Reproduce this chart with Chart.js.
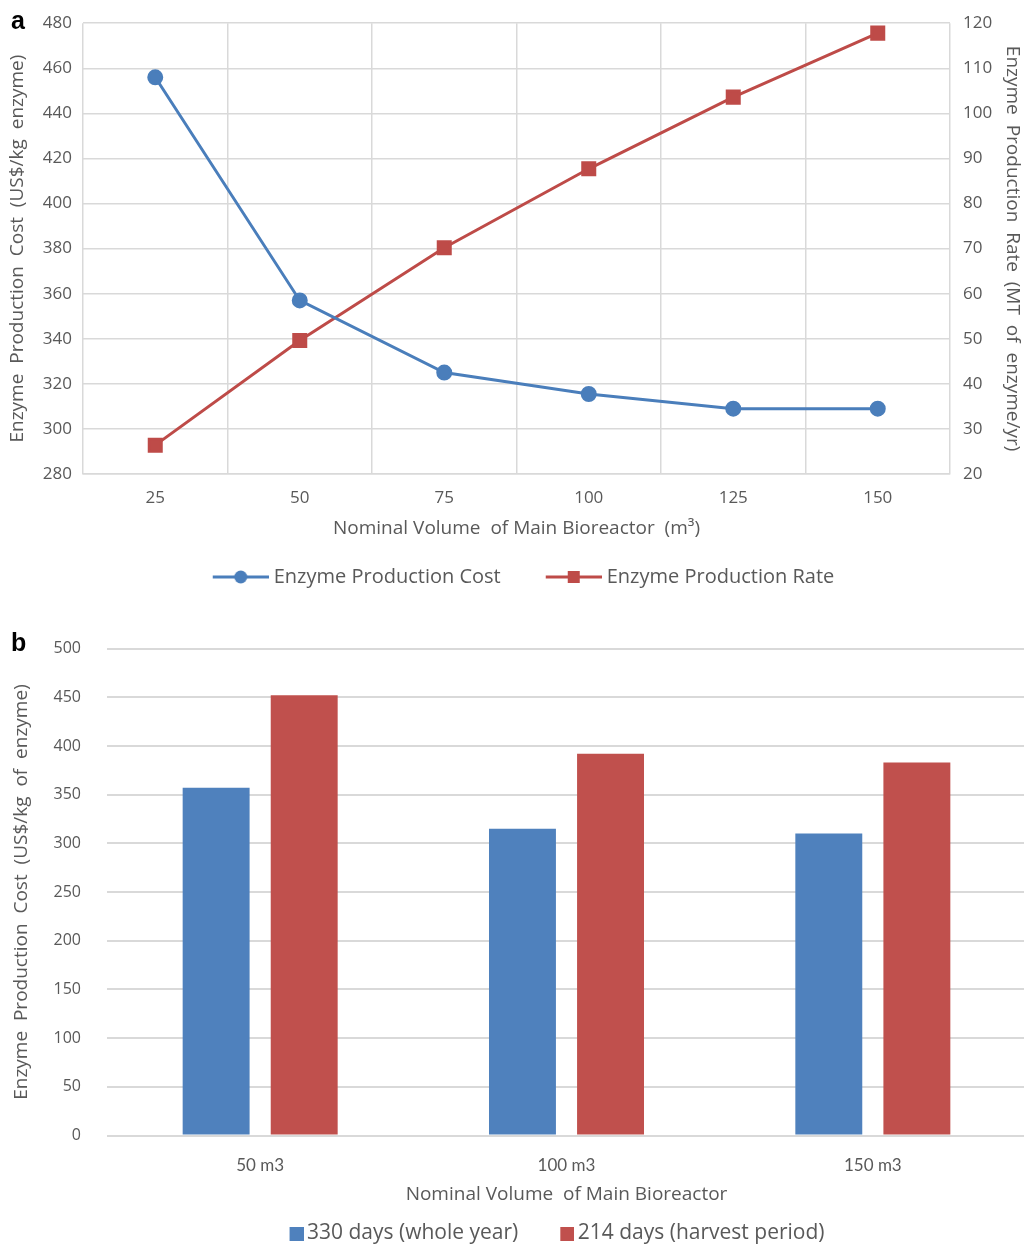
<!DOCTYPE html>
<html>
<head>
<meta charset="utf-8">
<title>Enzyme production cost vs. bioreactor volume</title>
<script src="https://cdn.jsdelivr.net/npm/chart.js@4.4.1/dist/chart.umd.min.js"></script>
<style>
  body{margin:0;background:#fff;width:1024px;height:1245px;overflow:hidden;position:relative}
  .tag{position:absolute;font:bold 25px 'Liberation Sans',Arial,sans-serif;color:#000}
  #wrap-a{position:absolute;left:0;top:0}
  #wrap-b{position:absolute;left:0;top:613px}
</style>
</head>
<body>
<div id="wrap-a"><canvas id="chart-a" width="1024" height="600"></canvas></div>
<div id="wrap-b"><canvas id="chart-b" width="1026" height="641"></canvas></div>
<div class="tag" style="left:11px;top:6px">a</div>
<div class="tag" style="left:11px;top:628px">b</div>

<script>
// panel a: cost and production rate vs. nominal volume (m3)
const volumes = ['25', '50', '75', '100', '125', '150'];
const productionCost = [456, 357, 325, 315.5, 309, 309];       // US$/kg enzyme
const productionRate = [26.4, 49.6, 70.2, 87.7, 103.6, 117.8];  // MT enzyme / yr

// panel b: cost for two operating schedules
const reactorSizes = ['50 m3', '100 m3', '150 m3'];
const costWholeYear = [357, 315, 310];
const costHarvest = [452, 392, 383];

const BLUE = '#4a7ebb';
const RED = '#be4b48';
const BAR_BLUE = '#4f81bd';
const BAR_RED = '#c0504d';
const GRID = '#d9d9d9';
const TICK = '#595959';

const fontA = "'Open Sans', 'Noto Sans', sans-serif";
const fontB = "Lato, 'Open Sans', sans-serif";

// legend swatches; the transparent strip on the left spaces the items apart
function lineIcon(color, shape){
  const margin = 28, len = 56;
  const c = document.createElement('canvas');
  c.width = margin + len; c.height = 14;
  const g = c.getContext('2d');
  g.strokeStyle = color; g.lineWidth = 3;
  g.beginPath(); g.moveTo(margin, 7); g.lineTo(margin + len, 7); g.stroke();
  g.fillStyle = color;
  if(shape === 'circle'){ g.beginPath(); g.arc(margin + len/2, 7, 6.5, 0, Math.PI*2); g.fill(); }
  else g.fillRect(margin + len/2 - 6, 1, 12, 12);
  return c;
}
function boxIcon(color){
  const margin = 39, size = 14;
  const c = document.createElement('canvas');
  c.width = margin + size; c.height = size;
  const g = c.getContext('2d');
  g.fillStyle = color;
  g.fillRect(margin, 0, size, size);
  return c;
}
const lineIcons = [lineIcon(BLUE, 'circle'), lineIcon(RED, 'rect')];
const boxIcons = [boxIcon(BAR_BLUE), boxIcon(BAR_RED)];

function withIcons(icons){
  return chart => Chart.defaults.plugins.legend.labels.generateLabels(chart)
    .map((it, i) => Object.assign(it, { pointStyle: icons[i] }));
}

new Chart(document.getElementById('chart-a'), {
  type: 'line',
  data: {
    labels: volumes,
    datasets: [
      {
        label: 'Enzyme Production Cost',
        data: productionCost,
        yAxisID: 'yCost',
        borderColor: BLUE, backgroundColor: BLUE,
        borderWidth: 3, pointStyle: 'circle', pointRadius: 6.5,
        tension: 0
      },
      {
        label: 'Enzyme Production Rate',
        data: productionRate,
        yAxisID: 'yRate',
        borderColor: RED, backgroundColor: RED,
        borderWidth: 3, pointStyle: 'rect', pointRadius: 8.5,
        tension: 0
      }
    ]
  },
  options: {
    responsive: false,
    animation: false,
    layout: { padding: { top: 22, bottom: 3, left: 0, right: 0 } },
    plugins: {
      tooltip: { enabled: false },
      legend: {
        position: 'bottom',
        labels: {
          usePointStyle: true,
          pointStyleWidth: lineIcons[0].width - 10,
          padding: 22,
          color: TICK,
          font: { family: fontA, size: 20 },
          generateLabels: withIcons(lineIcons)
        }
      }
    },
    scales: {
      x: {
        offset: true,
        grid: { offset: true, color: GRID, lineWidth: 1.5, drawTicks: false },
        border: { color: GRID, width: 1.5 },
        ticks: { color: TICK, padding: 14, font: { family: fontA, size: 17 } },
        title: { display: true, text: 'Nominal Volume  of Main Bioreactor  (m³)', color: TICK,
                 padding: { bottom: 5 }, font: { family: fontA, size: 19 } },
        afterFit: s => { s.height = 71; }
      },
      yCost: {
        position: 'left',
        min: 280, max: 480,
        ticks: { stepSize: 20, color: TICK, padding: 11, font: { family: fontA, size: 17 } },
        grid: { color: GRID, lineWidth: 1.5, drawTicks: false },
        border: { display: false },
        title: { display: true, text: 'Enzyme  Production  Cost  (US$/kg  enzyme)', color: TICK,
                 padding: { top: 6.5 }, font: { family: fontA, size: 19 } },
        afterFit: s => { s.width = 83; }
      },
      yRate: {
        position: 'right',
        min: 20, max: 120,
        ticks: { stepSize: 10, color: TICK, padding: 13, font: { family: fontA, size: 17 } },
        grid: { drawOnChartArea: false, drawTicks: false },
        border: { display: false },
        title: { display: true, text: 'Enzyme  Production  Rate  (MT  of  enzyme/yr)', color: TICK,
                 padding: { top: 0 }, font: { family: fontA, size: 19 } },
        afterFit: s => { s.width = 74; }
      }
    }
  }
});

// the bar legend sits a little right of the canvas centre
const nudgeLegend = {
  id: 'nudgeLegend',
  afterLayout(chart){
    chart.legend.left += 28;
    chart.legend.right += 28;
  }
};

new Chart(document.getElementById('chart-b'), {
  type: 'bar',
  data: {
    labels: reactorSizes,
    datasets: [
      { label: '330 days (whole year)', data: costWholeYear, backgroundColor: BAR_BLUE },
      { label: '214 days (harvest period)', data: costHarvest, backgroundColor: BAR_RED }
    ]
  },
  plugins: [nudgeLegend],
  options: {
    responsive: false,
    animation: false,
    layout: { padding: { top: 21, bottom: 0, left: 0, right: 0 } },
    datasets: { bar: { categoryPercentage: 0.575, barPercentage: 0.76 } },
    plugins: {
      tooltip: { enabled: false },
      legend: {
        position: 'bottom',
        labels: {
          usePointStyle: true,
          pointStyleWidth: boxIcons[0].width - 14,
          padding: 10,
          color: TICK,
          font: { family: fontA, size: 21 },
          generateLabels: withIcons(boxIcons)
        }
      }
    },
    scales: {
      x: {
        grid: { display: false },
        border: { display: false },
        ticks: { color: TICK, padding: 12, font: { family: fontB, size: 17 } },
        title: { display: true, text: 'Nominal Volume  of Main Bioreactor', color: TICK,
                 padding: { bottom: 7 }, font: { family: fontA, size: 19 } },
        afterFit: s => { s.height = 77.5; }
      },
      y: {
        min: 0, max: 500,
        ticks: { stepSize: 50, color: TICK, padding: 26, font: { family: fontA, size: 16 } },
        grid: { color: GRID, lineWidth: 2, drawTicks: false },
        border: { display: false },
        title: { display: true, text: 'Enzyme  Production  Cost  (US$/kg  of  enzyme)', color: TICK,
                 padding: { top: 10.5 }, font: { family: fontA, size: 19 } },
        afterFit: s => { s.width = 107; }
      }
    }
  }
});
</script>
</body>
</html>
